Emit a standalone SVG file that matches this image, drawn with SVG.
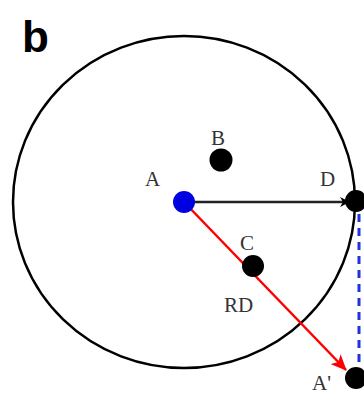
<svg xmlns="http://www.w3.org/2000/svg" width="364" height="397" viewBox="0 0 364 397">
<style>
.lbl{font-family:"Liberation Serif",serif;font-size:21px;fill:#333}
.dot{fill:#000}
</style>
<defs>
<marker id="ak" markerWidth="10" markerHeight="10" refX="9" refY="5" orient="auto" markerUnits="userSpaceOnUse"><path d="M0,0 L10,5 L0,10 L3,5 Z" fill="#000"/></marker>
<marker id="ar" markerWidth="16" markerHeight="14" refX="15" refY="7" orient="auto" markerUnits="userSpaceOnUse"><path d="M0,0 L16,7 L0,14 L4,7 Z" fill="#f00"/></marker>
</defs>
<rect width="364" height="397" fill="#fff"/>
<text x="22" y="52" font-family="Liberation Sans,sans-serif" font-weight="bold" font-size="44" fill="#000">b</text>
<ellipse cx="184" cy="202" rx="171" ry="166" fill="none" stroke="#000" stroke-width="2.5"/>
<g id="connectors">
<line x1="184" y1="202" x2="349" y2="202" stroke="#222" stroke-width="2.5" marker-end="url(#ak)"/>
<line x1="184" y1="202" x2="346" y2="370" stroke="#f00" stroke-width="2.5" marker-end="url(#ar)"/>
<line x1="359" y1="214" x2="359" y2="366" stroke="#2233dd" stroke-width="3" stroke-dasharray="8,6"/>
</g>
<g id="A"><circle cx="184" cy="202" r="11" fill="#0000e0"/><text class="lbl" x="145" y="186">A</text></g>
<g id="B"><circle class="dot" cx="221" cy="160" r="11.5"/><text class="lbl" x="211" y="145">B</text></g>
<g id="C"><circle class="dot" cx="253" cy="266" r="11"/><text class="lbl" x="240" y="250">C</text></g>
<g id="RD"><text class="lbl" x="224" y="312" font-size="26">RD</text></g>
<g id="D"><circle class="dot" cx="356" cy="201" r="11"/><text class="lbl" x="320" y="186">D</text></g>
<g id="Ap"><circle class="dot" cx="356" cy="378" r="11"/><text class="lbl" x="312" y="390">A'</text></g>
</svg>
